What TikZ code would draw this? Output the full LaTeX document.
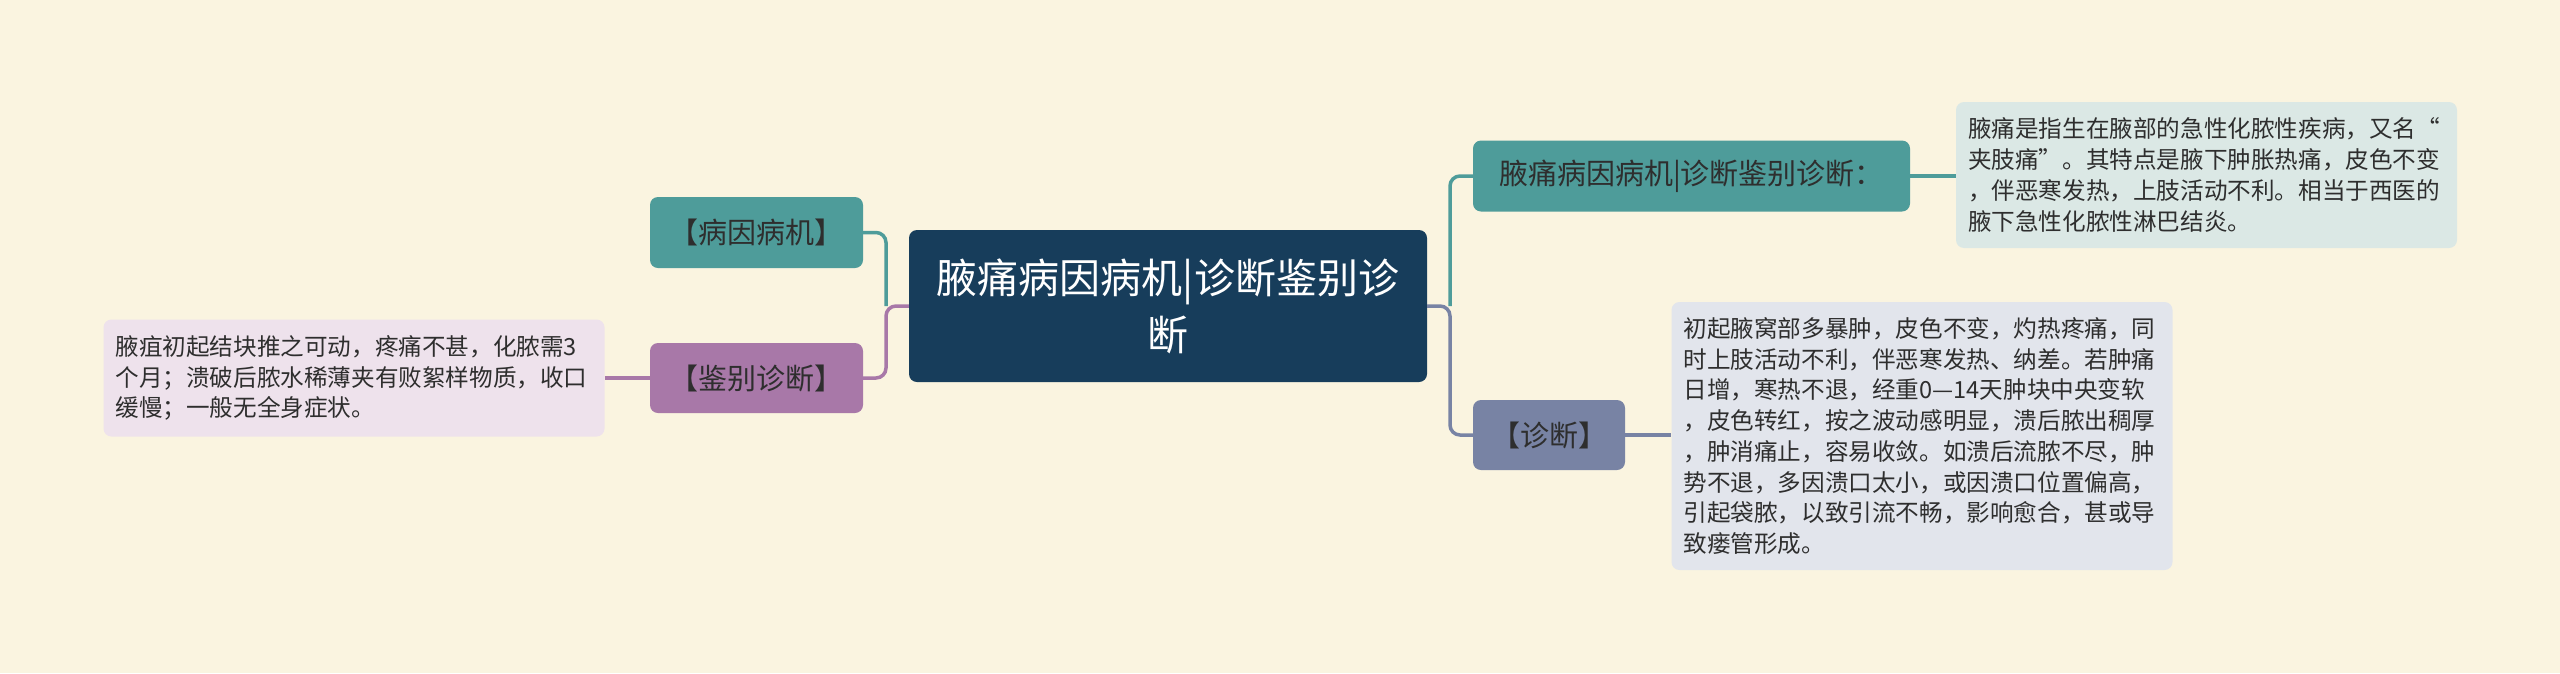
\documentclass[tikz,border=0pt]{standalone}
\usepackage{fontspec}
\setmainfont{Noto Sans CJK SC}
\definecolor{bg}{HTML}{FAF4E0}
\definecolor{croot}{HTML}{173D5B}
\definecolor{cteal}{HTML}{4E9C9A}
\definecolor{cpurp}{HTML}{A878A8}
\definecolor{cslate}{HTML}{7883A4}
\definecolor{leafA}{HTML}{DBE8E5}
\definecolor{leafB}{HTML}{E2E5EC}
\definecolor{leafC}{HTML}{EEE2EC}
\definecolor{txt}{HTML}{2E2E2E}
\newcommand{\oq}{\makebox[1em][r]{“}}
\newcommand{\cq}{\makebox[1em][l]{”}}
\begin{document}
\begin{tikzpicture}[x=1pt,y=-1pt,
  box/.style={rounded corners=8pt, inner sep=0pt, align=center, text=txt},
  mid/.style={box, font=\fontsize{29}{34}\selectfont},
  leaf/.style={rounded corners=8pt, inner ysep=0pt, inner xsep=12pt, align=left, text=txt,
    text width=477pt, font=\fontsize{23.6}{30.7}\selectfont},
  conn/.style={line width=3.5pt, rounded corners=10pt}]
\fill[bg] (0,0) rectangle (2560,673);
\useasboundingbox (0,0) rectangle (2560,673);

\node[box, fill=croot, text=white, minimum width=518pt, minimum height=152pt,
  font=\fontsize{41}{57}\selectfont] (root) at (1168,306) {腋痛病因病机|诊断鉴别诊\\断};

\node[mid, fill=cteal, minimum width=213pt, minimum height=71pt] (m1) at (756.5,232.5) {【病因病机】};
\node[mid, fill=cpurp, minimum width=213pt, minimum height=70pt] (m2) at (756.5,378) {【鉴别诊断】};
\node[mid, fill=cteal, minimum width=437pt, minimum height=71pt] (n1) at (1691.5,176) {腋痛病因病机|诊断鉴别诊断：};
\node[mid, fill=cslate, minimum width=152pt, minimum height=70pt] (n2) at (1549,435) {【诊断】};

\node[leaf, fill=leafC, minimum height=117pt] (lc) at (354,378) {腋疽初起结块推之可动，疼痛不甚，化脓需3\\个月；溃破后脓水稀薄夹有败絮样物质，收口\\缓慢；一般无全身症状。};
\node[leaf, fill=leafA, minimum height=146pt] (la) at (2206.5,175) {腋痛是指生在腋部的急性化脓性疾病，又名\oq\\夹肢痛\cq。其特点是腋下肿胀热痛，皮色不变\\，伴恶寒发热，上肢活动不利。相当于西医的\\腋下急性化脓性淋巴结炎。};
\node[leaf, fill=leafB, minimum height=268pt] (lb) at (1922,436) {初起腋窝部多暴肿，皮色不变，灼热疼痛，同\\时上肢活动不利，伴恶寒发热、纳差。若肿痛\\日增，寒热不退，经重0—14天肿块中央变软\\，皮色转红，按之波动感明显，溃后脓出稠厚\\，肿消痛止，容易收敛。如溃后流脓不尽，肿\\势不退，多因溃口太小，或因溃口位置偏高，\\引起袋脓，以致引流不畅，影响愈合，甚或导\\致瘘管形成。};

\coordinate (lj) at (886,306);
\coordinate (rj) at (1450,306);
\draw[conn, cteal] (lj) |- (m1.east);
\draw[conn, cpurp] (root.west) -- (lj) |- (m2.east);
\draw[conn, cteal] (rj) |- (n1.west);
\draw[conn, cslate] (root.east) -- (rj) |- (n2.west);
\draw[line width=3.5pt, cteal] (n1.east) -- (n1.east -| la.west);
\draw[line width=3.5pt, cslate] (n2.east) -- (n2.east -| lb.west);
\draw[line width=3.5pt, cpurp] (m2.west) -- (m2.west -| lc.east);
\end{tikzpicture}
\end{document}
